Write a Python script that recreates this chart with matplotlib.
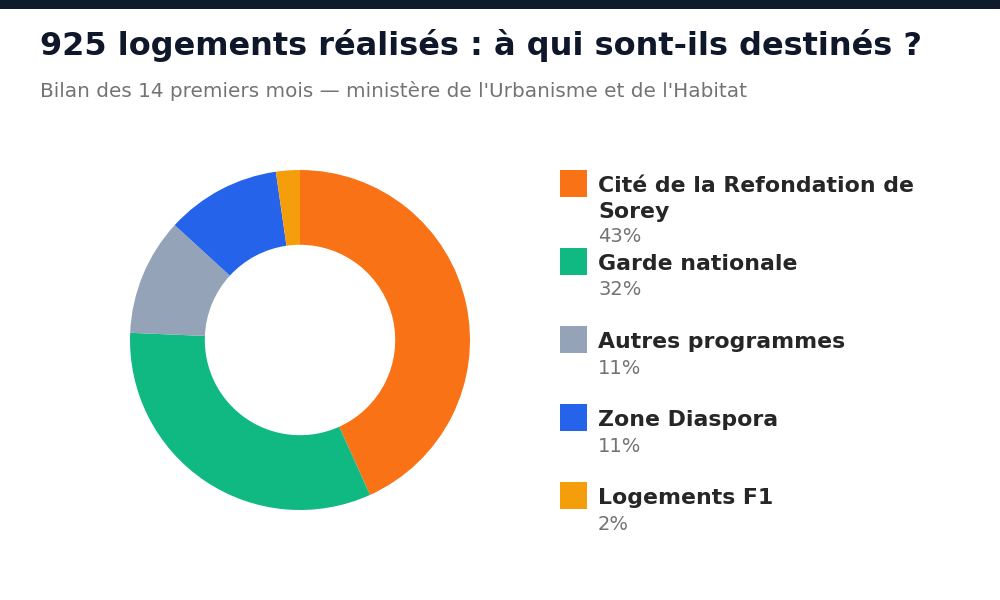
import textwrap
import matplotlib
matplotlib.use("Agg")
import matplotlib.pyplot as plt
from matplotlib.patches import Rectangle

plt.rcParams['font.family'] = ['DejaVu Sans']

# data (925 logements)
categories = ['Cité de la Refondation de Sorey', 'Garde nationale',
              'Autres programmes', 'Zone Diaspora', 'Logements F1']
values = [400, 300, 103, 101, 21]
colors = ['#f97316', '#10b981', '#94a3b8', '#2563eb', '#f59e0b']

TITLE = '925 logements réalisés : à qui sont-ils destinés ?'
SUBTITLE = "Bilan des 14 premiers mois — ministère de l'Urbanisme et de l'Habitat"

W, H = 1000, 600


def fx(x):
    return x / W


def fy(y):
    return 1 - y / H


fig = plt.figure(figsize=(10, 6), dpi=100)
fig.patch.set_facecolor('white')

# dark stripe on top
fig.patches.append(Rectangle((0, fy(9)), 1, 9 / H, transform=fig.transFigure,
                             facecolor='#0f1b2d', edgecolor='none'))

fig.text(fx(40), fy(55), TITLE, fontsize=23, fontweight='bold',
         color='#0f172a', va='baseline', ha='left')
fig.text(fx(40), fy(97), SUBTITLE, fontsize=14.45, color='#737373',
         va='baseline', ha='left')

# donut: centre (300, 340), outer radius 170 px
ax = fig.add_axes([fx(130), fy(510), 340 / W, 340 / H])
ax.pie(values, colors=colors, startangle=90, counterclock=False, radius=1,
       wedgeprops=dict(width=0.44, linewidth=0, edgecolor='none'))
ax.set_xlim(-1, 1)
ax.set_ylim(-1, 1)
ax.set_aspect('equal')
ax.axis('off')

# legend built by hand
total = sum(values)
for i, (cat, val, col) in enumerate(zip(categories, values, colors)):
    top = 170 + 78 * i
    fig.patches.append(Rectangle((fx(560), fy(top + 27)), 27 / W, 27 / H,
                                 transform=fig.transFigure,
                                 facecolor=col, edgecolor='none'))
    lines = textwrap.wrap(cat, 26)
    base = top + 22.5
    for j, ln in enumerate(lines):
        fig.text(fx(598), fy(base + 25 * j), ln, fontsize=15.8, fontweight='bold',
                 color='#262626', va='baseline', ha='left')
    pct = f'{round(100 * val / total)}%'
    fig.text(fx(598), fy(base + 25 * (len(lines) - 1) + 25), pct, fontsize=14,
             color='#737373', va='baseline', ha='left')

fig.savefig('out.png', dpi=100)
